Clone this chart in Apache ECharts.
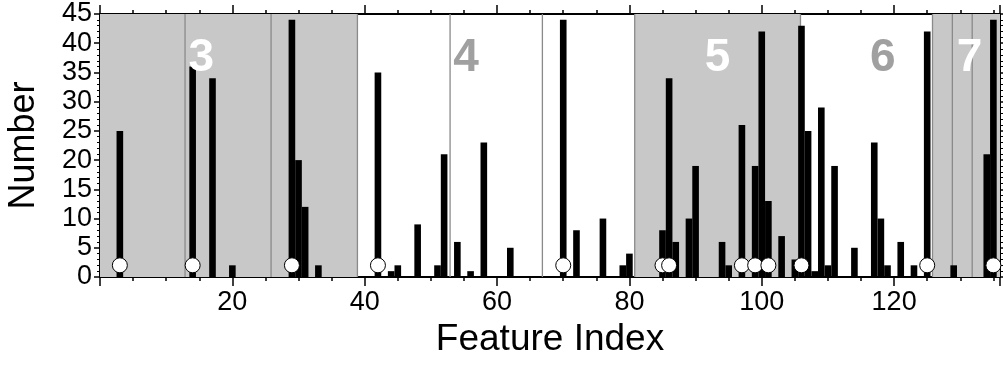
<!DOCTYPE html>
<html><head><meta charset="utf-8">
<script src="https://cdn.jsdelivr.net/npm/echarts@6/dist/echarts.min.js"></script>
<style>html,body{margin:0;padding:0;background:#fff}#c{width:1003px;height:370px}</style>
</head><body><div id="c"></div>
<script>
// ---- data ----
const featureIndex = [3,14,17,20,29,30,31,33,42,44,45,48,51,52,54,56,58,62,70,72,76,79,80,85,86,87,89,90,94,95,97,99,100,101,103,105,106,107,108,109,110,111,114,117,118,119,121,123,125,129,134,135];
const featureCount = [25,36,34,2,44,20,12,2,35,1,2,9,2,21,6,1,23,5,44,8,10,2,4,8,34,6,10,19,6,2,26,19,42,13,7,3,43,25,1,29,2,19,5,23,10,2,6,2,42,2,21,44];
const markerIndex = [3,14,29,42,70,85,86,97,99,101,106,125,135];
const markerLevel = 2;
const grayBands = [[0,38.9],[80.8,105.85],[125.8,136]];
const dividers = [12.85,25.85,38.9,52.9,66.85,80.8,105.85,125.8,128.8,131.8];
const regionNames = ['3','4','5','6','7'];
const regionCenters = [15.3,55.3,93.3,118.3,131.4];
const regionOnGray = [true,false,true,false,true];
const regionLabelY = 37.5;
const xTickLabels = [20,40,60,80,100,120];
const xMin = 0, xMax = 136, yMin = 0, yMax = 45;

const FONT = "'Liberation Sans', Arial, Helvetica, sans-serif";
const chart = echarts.init(document.getElementById('c'), null, {renderer:'canvas'});

function xAxisDef(pos, interval, tickLen, labels, withName) {
  return {
    type:'value', position:pos, min:xMin, max:xMax, interval:interval,
    axisLine:{show:true, onZero:false, lineStyle:{color:'#000', width:2}},
    axisTick:{show:true, inside:false, length:tickLen, lineStyle:{color:'#000', width:1.5}},
    axisLabel:{show:labels, color:'#000', fontFamily:FONT, fontSize:27, margin:12,
      formatter: v => xTickLabels.includes(v) ? String(v) : ''},
    splitLine:{show:false},
    name: withName ? 'Feature Index' : '',
    nameLocation:'middle', nameGap:42,
    nameTextStyle:{color:'#000', fontFamily:FONT, fontSize:37}
  };
}
function yAxisDef(pos, labels) {
  return {
    type:'value', position:pos, min:yMin, max:yMax, interval:5,
    axisLine:{show:true, onZero:false, lineStyle:{color:'#000', width:2}},
    axisTick:{show:true, inside:false, length:6, lineStyle:{color:'#000', width:1.5}},
    minorTick:{show:true, splitNumber:5, length:3, lineStyle:{color:'#000', width:1}},
    axisLabel:{show:labels, color:'#000', fontFamily:FONT, fontSize:27, margin:8},
    splitLine:{show:false}, minorSplitLine:{show:false},
    name: labels ? 'Number' : '',
    nameLocation:'middle', nameGap:58, nameRotate:90,
    nameTextStyle:{color:'#000', fontFamily:FONT, fontSize:36}
  };
}

const option = {
  animation:false,
  backgroundColor:'#fff',
  grid:{left:100, right:3, top:14, bottom:93, containLabel:false, outerBoundsMode:'none'},
  xAxis:[
    xAxisDef('bottom', 5, 4, false, false),
    xAxisDef('bottom', 20, 9, true, true),
    xAxisDef('top', 5, 4, false, false),
    xAxisDef('top', 20, 9, false, false)
  ],
  yAxis:[ yAxisDef('left', true), yAxisDef('right', false) ],
  series:[
    { type:'custom', xAxisIndex:0, yAxisIndex:0, z:1, silent:true,
      data: grayBands,
      renderItem:(params, api) => {
        const p0 = api.coord([api.value(0), yMax]);
        const p1 = api.coord([api.value(1), yMin]);
        return {type:'rect', shape:{x:p0[0], y:p0[1], width:p1[0]-p0[0], height:p1[1]-p0[1]},
          style:{fill:'#c8c8c8'}};
      }},
    { type:'custom', xAxisIndex:0, yAxisIndex:0, z:2, silent:true,
      data: dividers.map(d => [d]),
      renderItem:(params, api) => {
        const p0 = api.coord([api.value(0), yMax]);
        const p1 = api.coord([api.value(0), yMin]);
        return {type:'line', shape:{x1:p0[0], y1:p0[1], x2:p1[0], y2:p1[1]},
          style:{stroke:'#8a8a8a', lineWidth:1.3}};
      }},
    { type:'custom', xAxisIndex:0, yAxisIndex:0, z:3, silent:true,
      data: featureIndex.map((x,i) => [x, featureCount[i]]),
      renderItem:(params, api) => {
        const x = api.value(0), v = api.value(1);
        const p0 = api.coord([x-0.5, v]);
        const p1 = api.coord([x+0.5, 0]);
        return {type:'rect', shape:{x:p0[0], y:p0[1], width:p1[0]-p0[0], height:p1[1]-p0[1]},
          style:{fill:'#000'}};
      }},
    { type:'scatter', xAxisIndex:0, yAxisIndex:0, z:4, silent:true,
      data: markerIndex.map(x => [x, markerLevel]),
      symbol:'circle', symbolSize:15,
      itemStyle:{color:'#fff', borderColor:'#000', borderWidth:1, opacity:1}},
    { type:'custom', xAxisIndex:0, yAxisIndex:0, z:5, silent:true,
      data: regionNames.map((n,i) => [regionCenters[i], regionLabelY, i]),
      renderItem:(params, api) => {
        const i = api.value(2);
        const p = api.coord([api.value(0), api.value(1)]);
        return {type:'text', x:p[0], y:p[1],
          style:{text:regionNames[i], fill: regionOnGray[i] ? '#fff' : '#a0a0a0',
            font:'bold 46px ' + FONT, textAlign:'center', textVerticalAlign:'middle'}};
      }}
  ]
};
chart.setOption(option);
</script></body></html>
